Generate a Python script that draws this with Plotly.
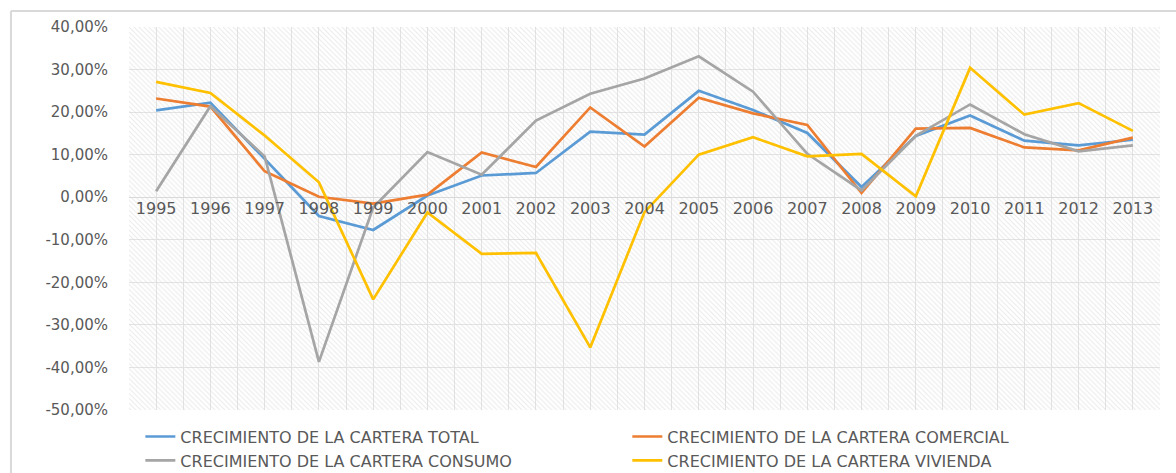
import plotly.graph_objects as go

# Datos
anios = [1995, 1996, 1997, 1998, 1999, 2000, 2001, 2002, 2003, 2004,
         2005, 2006, 2007, 2008, 2009, 2010, 2011, 2012, 2013]
total = [20.4, 22.2, 9.0, -4.4, -7.7, 0.4, 5.1, 5.7, 15.4, 14.7,
         25.0, 20.5, 15.1, 2.4, 14.4, 19.2, 13.3, 12.2, 13.5]
comercial = [23.2, 21.3, 6.1, 0.1, -1.5, 0.6, 10.5, 7.1, 21.1, 11.9,
             23.4, 19.7, 17.0, 1.0, 16.1, 16.3, 11.7, 11.0, 14.0]
consumo = [1.4, 21.4, 9.6, -38.7, -2.4, 10.6, 5.3, 18.0, 24.3, 27.9,
           33.1, 24.8, 10.2, 1.6, 14.4, 21.8, 14.8, 10.8, 12.2]
vivienda = [27.1, 24.5, 14.5, 3.5, -24.0, -3.6, -13.3, -13.1, -35.3, -3.5,
            10.0, 14.1, 9.6, 10.2, 0.2, 30.4, 19.4, 22.1, 15.6]

nombres = ['CRECIMIENTO DE LA CARTERA TOTAL', 'CRECIMIENTO DE LA CARTERA COMERCIAL',
           'CRECIMIENTO DE LA CARTERA CONSUMO', 'CRECIMIENTO DE LA CARTERA VIVIENDA']
colores = ['#5b9bd5', '#ed7d31', '#a5a5a5', '#ffc000']

y_ticks = [-50, -40, -30, -20, -10, 0, 10, 20, 30, 40]
y_text = ['-50,00%', '-40,00%', '-30,00%', '-20,00%', '-10,00%',
          '0,00%', '10,00%', '20,00%', '30,00%', '40,00%']
y_min, y_max = -50, 40

gris = '#595959'
rejilla = '#e3e3e3'

fig = go.Figure()

# Fondo rayado del area de trazado
fig.add_trace(go.Bar(x = anios,
                     y = [y_max - y_min] * len(anios),
                     base = y_min,
                     width = 1,
                     marker = dict(color = 'rgba(0,0,0,0)',
                                   line_width = 0,
                                   pattern = dict(shape = '\\', fgcolor = '#d6d6d6',
                                                  size = 3.5, solidity = 0.3)),
                     hoverinfo = 'skip',
                     showlegend = False))

for serie, nombre, color in zip([total, comercial, consumo, vivienda], nombres, colores):
    fig.add_trace(go.Scatter(x = anios, y = serie, name = nombre, mode = 'lines',
                             line = dict(color = color, width = 2.7)))

fig.update_layout(width = 1176, height = 473,
                  margin = dict(l = 129, r = 16, t = 27, b = 63, autoexpand = False),
                  plot_bgcolor = 'white',
                  paper_bgcolor = 'white',
                  font = dict(family = 'DejaVu Sans', color = gris),
                  bargap = 0,
                  legend = dict(orientation = 'h',
                                x = 0.011, y = -0.025,
                                xanchor = 'left', yanchor = 'top',
                                entrywidth = 442,
                                font = dict(size = 16, color = gris),
                                traceorder = 'normal'),
                  shapes = [dict(type = 'line', xref = 'paper', yref = 'paper',
                                 x0 = -0.1145, x1 = 1.05, y0 = 1.0418, y1 = 1.0418,
                                 line = dict(color = '#d9d9d9', width = 2)),
                            dict(type = 'line', xref = 'paper', yref = 'paper',
                                 x0 = -0.1145, x1 = -0.1145, y0 = -0.3, y1 = 1.0418,
                                 line = dict(color = '#d9d9d9', width = 2))]
                  )

fig.update_xaxes(range = [anios[0] - 0.5, anios[-1] + 0.5],
                 tickmode = 'array',
                 tickvals = anios,
                 ticktext = [str(a) for a in anios],
                 tickfont = dict(size = 16, color = gris),
                 anchor = 'free',
                 position = (0 - y_min) / (y_max - y_min),
                 showgrid = True, gridcolor = rejilla, gridwidth = 1,
                 minor = dict(tickvals = [a - 0.5 for a in anios] + [anios[-1] + 0.5],
                              showgrid = True, gridcolor = rejilla, gridwidth = 1),
                 showline = False, zeroline = False, ticks = '')

fig.update_yaxes(range = [y_min, y_max],
                 tickmode = 'array',
                 tickvals = y_ticks,
                 ticktext = y_text,
                 tickfont = dict(size = 15, color = gris),
                 ticklabelstandoff = 20,
                 showgrid = True, gridcolor = rejilla, gridwidth = 1,
                 zeroline = True, zerolinecolor = '#d9d9d9', zerolinewidth = 1,
                 showline = False, ticks = '')

fig.write_html("out.html",
               config = {'displayModeBar': False},
               post_script = "document.body.style.margin = '0';")
